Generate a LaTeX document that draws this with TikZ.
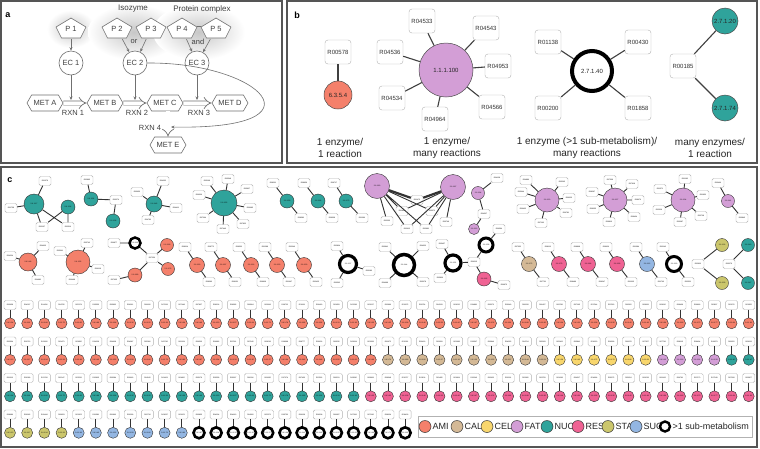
\documentclass[tikz,border=0pt]{standalone}
\usepackage{fontspec}
\setmainfont{Liberation Sans}
\usetikzlibrary{shapes.geometric,shapes.symbols,arrows.meta,calc}
\definecolor{ami}{HTML}{F4806B}
\definecolor{cal}{HTML}{D4B996}
\definecolor{cel}{HTML}{F8D66D}
\definecolor{fat}{HTML}{D39ED6}
\definecolor{nuc}{HTML}{2FA39B}
\definecolor{res}{HTML}{EF6293}
\definecolor{sta}{HTML}{CBC66C}
\definecolor{suc}{HTML}{93B6E2}
\definecolor{frame}{HTML}{555555}
\definecolor{agray}{HTML}{707070}
\definecolor{atext}{HTML}{404040}
\newcount\rcnt \rcnt=1000
\newcommand\rnum{\global\advance\rcnt by 379\relax\ifnum\rcnt>9999 \global\advance\rcnt by -9000\relax\fi R0\the\rcnt}
\newcount\ecnt \ecnt=10
\newcommand\ecnum{\global\advance\ecnt by 7\relax\ifnum\ecnt>97 \global\advance\ecnt by -88\relax\fi 2.6.1.\the\ecnt}
\newcommand\gcell[3]{%
  \node[sbox] (gb#2x#1) at ({10+#1*17.18},{305+#2*36.5}) {\rnum};
  \node[k#3,minimum size=11] (gc#2x#1) at ({10+#1*17.18},{323.3+#2*36.5}) {\ecnum};
  \draw[cedge] (gb#2x#1) -- (gc#2x#1);}
\newcommand\pentshape[2]{%
  \filldraw[draw=agray,line width=0.6pt,fill=white,line join=round] ({#1},{#2-11}) -- ({#1+15},{#2-2}) -- ({#1+9.5},{#2+9}) -- ({#1-9.5},{#2+9}) -- ({#1-15},{#2-2}) -- cycle;}
\begin{document}
\begin{tikzpicture}[x=1pt,y=-1pt,
  panel/.style={draw=frame,line width=1.2pt},
  plabel/.style={font=\bfseries\fontsize{9}{10}\selectfont,inner sep=0pt},
  pent/.style={rectangle,minimum width=30pt,minimum height=20pt,inner sep=0pt,text=atext,font=\fontsize{7.5}{8}\selectfont},
  ecc/.style={circle,minimum size=24pt,inner sep=0pt,draw=agray,line width=0.6pt,fill=white,text=atext,font=\fontsize{7.5}{8}\selectfont},
  met/.style={signal,signal to=east and west,signal pointer angle=120,minimum width=36pt,minimum height=16pt,inner sep=0pt,draw=agray,line width=0.6pt,fill=white,text=atext,font=\fontsize{7.5}{8}\selectfont},
  atxt/.style={text=atext,font=\fontsize{7.5}{8}\selectfont,inner sep=0pt},
  garrow/.style={draw=agray,line width=0.6pt,-{Stealth[length=3.5pt,width=3pt]}},
  hollow/.style={draw=agray,line width=0.7pt,double=white,double distance=3.5pt,-{Implies}},
  bbox/.style={rectangle,rounded corners=3pt,draw=gray!60,fill=white,minimum width=26pt,minimum height=24pt,inner sep=0pt,font=\fontsize{6}{7}\selectfont,text=black!80},
  bcirc/.style={circle,draw=black!70,line width=0.5pt,inner sep=0pt,font=\fontsize{6}{7}\selectfont,text=black!85},
  bedge/.style={draw=black!75,line width=1.1pt},
  btxt/.style={align=center,font=\fontsize{10}{12.5}\selectfont,text=black!85,inner sep=0pt},
  sbox/.style={rectangle,rounded corners=1.5pt,draw=gray!60,fill=white,minimum width=12pt,minimum height=9pt,inner sep=0pt,line width=0.4pt,font=\fontsize{1.8}{2}\selectfont},
  scirc/.style={circle,draw=black!80,line width=0.4pt,inner sep=0pt,font=\fontsize{1.8}{2}\selectfont},
  kAMI/.style={scirc,fill=ami},
  kCAL/.style={scirc,fill=cal},
  kCEL/.style={scirc,fill=cel},
  kFAT/.style={scirc,fill=fat},
  kNUC/.style={scirc,fill=nuc},
  kRES/.style={scirc,fill=res},
  kSTA/.style={scirc,fill=sta},
  kSUC/.style={scirc,fill=suc},
  kRING/.style={circle,draw=black,line width=2.6pt,fill=white,inner sep=0pt,font=\fontsize{1.8}{2}\selectfont},
  cedge/.style={draw=black!80,line width=0.9pt},
  ltxt/.style={anchor=west,inner sep=0pt,font=\fontsize{9}{10}\selectfont,text=black!85}
]
\useasboundingbox (0,0) rectangle (760,448);
\fill[white] (0,0) rectangle (760,448);
% ---------------- panel frames
\draw[panel] (1,1) rectangle (282,163);
\draw[panel] (287,1) rectangle (757,163);
\draw[panel] (1,167) rectangle (757,447);
\node[plabel] (la) at (8,15) {a};
\node[plabel] (lb) at (297,15) {b};
\node[plabel] (lc) at (10,180) {c};
% ---------------- panel a
\shade[inner color=black!22,outer color=white] (71,29) ellipse [x radius=24pt,y radius=19pt];
\shade[inner color=black!22,outer color=white] (134,32) ellipse [x radius=46pt,y radius=28pt];
\shade[inner color=black!22,outer color=white] (199,32) ellipse [x radius=46pt,y radius=28pt];
\node[atxt,font=\fontsize{8}{9}\selectfont] (iso) at (133,9) {Isozyme};
\node[atxt,font=\fontsize{8}{9}\selectfont] (pc) at (202,9) {Protein complex};
\pentshape{71}{29}
\pentshape{117}{29}
\pentshape{151}{29}
\pentshape{182}{29}
\pentshape{216}{29}
\node[pent] (p1) at (71,29) {P 1};
\node[pent] (p2) at (117,29) {P 2};
\node[pent] (p3) at (151,29) {P 3};
\node[pent] (p4) at (182,29) {P 4};
\node[pent] (p5) at (216,29) {P 5};
\node[atxt] (or) at (134,42) {or};
\node[atxt] (and) at (198,42) {and};
\node[ecc] (ec1) at (71,63) {EC 1};
\node[ecc] (ec2) at (135,63) {EC 2};
\node[ecc] (ec3) at (197,63) {EC 3};
\node[met] (ma) at (45,103) {MET A};
\node[met] (mb) at (105,103) {MET B};
\node[met] (mc) at (165,103) {MET C};
\node[met] (md) at (230,103) {MET D};
\node[met] (me) at (168,145) {MET E};
\draw[agray,line width=0.5pt] ([yshift=3pt]p4.east) -- ([yshift=3pt]p5.west);
\draw[garrow] (p1) -- (ec1);
\draw[garrow] (p2) -- (ec2);
\draw[garrow] (p3) -- (ec2);
\draw[garrow] (p4) -- (ec3);
\draw[garrow] (p5) -- (ec3);
\draw[hollow] (ma) -- (mb);
\draw[hollow] (mb) -- (mc);
\draw[hollow] (mc) -- (md);
\draw[hollow] (me.north |- mc.south) -- (me.north);
\coordinate (r1) at (71,100);
\coordinate (r2) at (135,100);
\coordinate (r3) at (197,100);
\coordinate (r4) at (171,127);
\draw[garrow] (ec1) -- (r1);
\draw[garrow] (ec2) -- (r2);
\draw[garrow] (ec3) -- (r3);
\draw[garrow] (ec2.east) .. controls (260,62) and (330,130) .. (r4);
\node[atxt] (x1) at (73,113) {RXN 1};
\node[atxt] (x2) at (137,113) {RXN 2};
\node[atxt] (x3) at (199,113) {RXN 3};
\node[atxt] (x4) at (150,128) {RXN 4};
% ---------------- panel b
\node[bbox] (b1r) at (338,52) {R00578};
\node[bcirc,fill=ami,minimum size=28pt] (b1c) at (338,95) {6.3.5.4};
\draw[bedge] (b1r) -- (b1c);
\node[bcirc,fill=fat,minimum size=54pt] (b2c) at (446,70) {1.1.1.100};
\node[bbox] (b2a) at (422,21) {R04533};
\node[bbox] (b2b) at (486,28) {R04543};
\node[bbox] (b2d) at (390,52) {R04536};
\node[bbox] (b2e) at (498,66) {R04953};
\node[bbox] (b2f) at (392,98) {R04534};
\node[bbox] (b2g) at (492,107) {R04566};
\node[bbox] (b2h) at (435,119) {R04964};
\draw[bedge] (b2c)--(b2a) (b2c)--(b2b) (b2c)--(b2d) (b2c)--(b2e) (b2c)--(b2f) (b2c)--(b2g) (b2c)--(b2h);
\node[bcirc,draw=black,line width=4pt,fill=white,minimum size=40pt] (b3c) at (592,71) {2.7.1.40};
\node[bbox] (b3a) at (548,42) {R01138};
\node[bbox] (b3b) at (638,42) {R00430};
\node[bbox] (b3d) at (548,108) {R00200};
\node[bbox] (b3e) at (638,108) {R01858};
\draw[bedge] (b3c)--(b3a) (b3c)--(b3b) (b3c)--(b3d) (b3c)--(b3e);
\node[bbox] (b4r) at (683,66) {R00185};
\node[bcirc,fill=nuc,minimum size=26pt] (b4a) at (725,21) {2.7.1.20};
\node[bcirc,fill=nuc,minimum size=26pt] (b4b) at (725,108) {2.7.1.74};
\draw[bedge] (b4r)--(b4a) (b4r)--(b4b);
\node[btxt] (bt1) at (340,148) {1 enzyme/\\1 reaction};
\node[btxt] (bt2) at (447,148) {1 enzyme/\\many reactions};
\node[btxt] (bt3) at (587,148) {1 enzyme (>1 sub-metabolism)/\\many reactions};
\node[btxt] (bt4) at (710,148) {many enzymes/\\1 reaction};
% ---------------- panel c, row A
\node[kNUC,minimum size=20pt] (n1) at (34,204) {\ecnum};
\node[kNUC,minimum size=14pt] (n2) at (68,207) {\ecnum};
\node[sbox] (n3) at (45,181) {\rnum};
\node[sbox] (n4) at (11,208) {\rnum};
\node[sbox] (n5) at (42,227) {\rnum};
\node[sbox] (n6) at (68,227) {\rnum};
\draw[cedge] (n1)--(n3) (n1)--(n4) (n1)--(n5) (n1)--(n6) (n2)--(n5) (n2)--(n6);
\node[sbox] (m1) at (87,180) {\rnum};
\node[kNUC,minimum size=14pt] (m2) at (91,199) {\ecnum};
\node[sbox] (m3) at (116,200) {\rnum};
\node[kNUC,minimum size=14pt] (m4) at (113,221) {\ecnum};
\draw[cedge] (m1)--(m2) (m2)--(m3) (m3)--(m4);
\node[kNUC,minimum size=16pt] (q1) at (154,204) {\ecnum};
\node[sbox] (q2) at (137,192) {\rnum};
\node[sbox] (q3) at (163,181) {\rnum};
\node[sbox] (q4) at (176,208) {\rnum};
\node[sbox] (q5) at (148,220) {\rnum};
\draw[cedge] (q1)--(q2) (q1)--(q3) (q1)--(q4) (q1)--(q5);
\node[kNUC,minimum size=26pt] (r0) at (224,203) {\ecnum};
\node[sbox] (rb1) at (207,181) {\rnum};
\node[sbox] (rb2) at (228,179) {\rnum};
\node[sbox] (rb3) at (247,189) {\rnum};
\node[sbox] (rb4) at (199,195) {\rnum};
\node[sbox] (rb5) at (250,208) {\rnum};
\node[sbox] (rb6) at (203,218) {\rnum};
\node[sbox] (rb7) at (223,229) {\rnum};
\node[sbox] (rb8) at (243,224) {\rnum};
\draw[cedge] (r0)--(rb1) (r0)--(rb2) (r0)--(rb3) (r0)--(rb4) (r0)--(rb5) (r0)--(rb6) (r0)--(rb7) (r0)--(rb8);
\node[kNUC,minimum size=14pt] (s1) at (287,201) {\ecnum};
\node[sbox] (s2) at (273,183) {\rnum};
\node[sbox] (s3) at (301,218) {\rnum};
\node[kNUC,minimum size=14pt] (t1) at (318,201) {\ecnum};
\node[sbox] (t2) at (304,183) {\rnum};
\node[sbox] (t3) at (332,218) {\rnum};
\node[kNUC,minimum size=14pt] (u1) at (346,201) {\ecnum};
\node[sbox] (u2) at (334,183) {\rnum};
\node[sbox] (u3) at (362,218) {\rnum};
\draw[cedge] (s1)--(s2) (s1)--(s3) (t1)--(t2) (t1)--(t3) (u1)--(u2) (u1)--(u3);
\node[kFAT,minimum size=25pt] (v1) at (377,186) {\ecnum};
\node[kFAT,minimum size=25pt] (v2) at (453,187) {\ecnum};
\node[sbox] (v3) at (417,200) {\rnum};
\node[sbox] (v4) at (402,211) {\rnum};
\node[sbox] (v5) at (387,221) {\rnum};
\node[sbox] (v6) at (407,229) {\rnum};
\node[sbox] (v7) at (426,229) {\rnum};
\node[sbox] (v8) at (432,211) {\rnum};
\node[sbox] (v9) at (446,222) {\rnum};
\draw[cedge,line width=2.2pt] (v1)--(v3) (v2)--(v3);
\draw[cedge] (v1)--(v4) (v1)--(v5) (v1)--(v6) (v1)--(v7) (v1)--(v8) (v2)--(v4) (v2)--(v6) (v2)--(v7) (v2)--(v8) (v2)--(v9);
\node[kFAT,minimum size=13pt] (w1) at (478,193) {\ecnum};
\node[sbox] (w2) at (497,178) {\rnum};
\node[sbox] (w3) at (484,214) {\rnum};
\node[kFAT,minimum size=11pt] (w4) at (474,229) {\ecnum};
\draw[cedge] (w2)--(w1) (w1)--(w3) (w3)--(w4);
\node[kFAT,minimum size=24pt] (x0) at (547,200) {\ecnum};
\node[sbox] (xb1) at (526,180) {\rnum};
\node[sbox] (xb2) at (562,182) {\rnum};
\node[sbox] (xb3) at (521,192) {\rnum};
\node[sbox] (xb4) at (569,198) {\rnum};
\node[sbox] (xb5) at (523,209) {\rnum};
\node[sbox] (xb6) at (566,213) {\rnum};
\node[sbox] (xb7) at (541,223) {\rnum};
\draw[cedge] (x0)--(xb1) (x0)--(xb2) (x0)--(xb3) (x0)--(xb4) (x0)--(xb5) (x0)--(xb6) (x0)--(xb7);
\node[kFAT,minimum size=24pt] (y0) at (615,200) {\ecnum};
\node[sbox] (yb1) at (610,180) {\rnum};
\node[sbox] (yb2) at (632,184) {\rnum};
\node[sbox] (yb3) at (592,192) {\rnum};
\node[sbox] (yb4) at (638,200) {\rnum};
\node[sbox] (yb5) at (593,209) {\rnum};
\node[sbox] (yb6) at (634,217) {\rnum};
\node[sbox] (yb7) at (609,222) {\rnum};
\draw[cedge] (y0)--(yb1) (y0)--(yb2) (y0)--(yb3) (y0)--(yb4) (y0)--(yb5) (y0)--(yb6) (y0)--(yb7);
\node[kFAT,minimum size=24pt] (z0) at (683,200) {\ecnum};
\node[sbox] (zb1) at (685,179) {\rnum};
\node[sbox] (zb2) at (660,189) {\rnum};
\node[sbox] (zb3) at (703,195) {\rnum};
\node[sbox] (zb4) at (659,210) {\rnum};
\node[sbox] (zb5) at (701,216) {\rnum};
\node[sbox] (zb6) at (680,222) {\rnum};
\draw[cedge] (z0)--(zb1) (z0)--(zb2) (z0)--(zb3) (z0)--(zb4) (z0)--(zb5) (z0)--(zb6);
\node[kFAT,minimum size=13pt] (zz0) at (728,201) {\ecnum};
\node[sbox] (zz1) at (718,183) {\rnum};
\node[sbox] (zz2) at (742,218) {\rnum};
\draw[cedge] (zz0)--(zz1) (zz0)--(zz2);
% ---------------- panel c, row B
\node[kAMI,minimum size=18pt] (h1) at (28,262) {\ecnum};
\node[sbox] (h1a) at (10,256) {\rnum};
\node[sbox] (h1b) at (43,246) {\rnum};
\node[sbox] (h1c) at (38,280) {\rnum};
\draw[cedge] (h1)--(h1a) (h1)--(h1b) (h1)--(h1c);
\node[kAMI,minimum size=24pt] (h2) at (78,262) {\ecnum};
\node[sbox] (h2a) at (60,251) {\rnum};
\node[sbox] (h2b) at (87,243) {\rnum};
\node[sbox] (h2c) at (98,269) {\rnum};
\node[sbox] (h2d) at (72,280) {\rnum};
\draw[cedge] (h2)--(h2a) (h2)--(h2b) (h2)--(h2c) (h2)--(h2d);
\node[kRING,minimum size=11pt,line width=2.5pt] (h3) at (135,243) {\ecnum};
\node[sbox] (h3a) at (114,243) {\rnum};
\node[sbox] (h3b) at (152,258) {\rnum};
\node[kAMI,minimum size=13pt] (h3c) at (167,245) {\ecnum};
\node[kAMI,minimum size=13pt] (h3d) at (168,269) {\ecnum};
\node[kAMI,minimum size=14pt] (h3e) at (135,275) {\ecnum};
\node[sbox] (h3f) at (114,280) {\rnum};
\draw[cedge] (h3)--(h3a) (h3)--(h3b) (h3b)--(h3c) (h3b)--(h3d) (h3b)--(h3e) (h3e)--(h3f);
\foreach \xx [count=\k] in {197,223,251,277,304}{
  \node[kAMI,minimum size=15pt] (hs\k) at (\xx,265) {\ecnum};
  \node[sbox] (hsa\k) at (\xx-12,247) {\rnum};
  \node[sbox] (hsb\k) at (\xx+12,282) {\rnum};
  \draw[cedge] (hs\k)--(hsa\k) (hs\k)--(hsb\k);
}
\node[kRING,minimum size=17pt,line width=3.2pt] (h9) at (348,264) {\ecnum};
\node[sbox] (h9a) at (337,246) {\rnum};
\node[sbox] (h9b) at (369,271) {\rnum};
\node[sbox] (h9c) at (337,283) {\rnum};
\draw[cedge] (h9)--(h9a) (h9)--(h9b) (h9)--(h9c);
\node[kRING,minimum size=21pt,line width=3.5pt] (h10) at (404,265) {\ecnum};
\node[sbox] (h10a) at (385,247) {\rnum};
\node[sbox] (h10b) at (423,246) {\rnum};
\node[sbox] (h10c) at (385,283) {\rnum};
\node[sbox] (h10d) at (423,282) {\rnum};
\draw[cedge] (h10)--(h10a) (h10)--(h10b) (h10)--(h10c) (h10)--(h10d);
\node[kRING,minimum size=16pt,line width=3.2pt] (h11) at (453,263) {\ecnum};
\node[sbox] (h11a) at (442,244) {\rnum};
\node[sbox] (h11b) at (440,278) {\rnum};
\node[sbox] (h11c) at (474,262) {\rnum};
\node[kRING,minimum size=14pt,line width=3pt] (h11d) at (486,245) {\ecnum};
\node[sbox] (h11e) at (499,229) {\rnum};
\node[kRES,minimum size=14pt] (h11f) at (484,279) {\ecnum};
\node[sbox] (h11g) at (504,285) {\rnum};
\draw[cedge] (h11)--(h11a) (h11)--(h11b) (h11)--(h11c) (h11c)--(h11d) (h11d)--(h11e) (h11c)--(h11f) (h11f)--(h11g);
\foreach \xx/\cc [count=\k] in {529/CAL,559/RES,588/RES,617/RES,647/SUC}{
  \node[k\cc,minimum size=15pt] (hu\k) at (\xx,264) {\ecnum};
  \node[sbox] (hua\k) at (\xx-11,247) {\rnum};
  \node[sbox] (hub\k) at (\xx+14,282) {\rnum};
  \draw[cedge] (hu\k)--(hua\k) (hu\k)--(hub\k);
}
\node[kRING,minimum size=15pt,line width=3pt] (h17) at (674,264) {\ecnum};
\node[sbox] (h17a) at (663,247) {\rnum};
\node[sbox] (h17b) at (688,282) {\rnum};
\draw[cedge] (h17)--(h17a) (h17)--(h17b);
\node[sbox] (h18) at (698,264) {\rnum};
\node[kSTA,minimum size=13pt] (h18a) at (722,245) {\ecnum};
\node[kSTA,minimum size=13pt] (h18b) at (722,283) {\ecnum};
\draw[cedge] (h18)--(h18a) (h18)--(h18b);
\node[sbox] (h19) at (729,264) {\rnum};
\node[kNUC,minimum size=13pt] (h19a) at (748,245) {\ecnum};
\node[kNUC,minimum size=13pt] (h19b) at (748,283) {\ecnum};
\draw[cedge] (h19)--(h19a) (h19)--(h19b);
% ---------------- panel c, grid
\foreach \i in {0,...,43}{\gcell{\i}{0}{AMI}}
\foreach \i in {0,...,21}{\gcell{\i}{1}{AMI}}
\foreach \i in {22,...,31}{\gcell{\i}{1}{CAL}}
\foreach \i in {32,...,37}{\gcell{\i}{1}{CEL}}
\foreach \i in {38,...,41}{\gcell{\i}{1}{FAT}}
\foreach \i in {42,43}{\gcell{\i}{1}{NUC}}
\foreach \i in {0,...,20}{\gcell{\i}{2}{NUC}}
\foreach \i in {21,...,43}{\gcell{\i}{2}{RES}}
\foreach \i in {0,...,3}{\gcell{\i}{3}{STA}}
\foreach \i in {4,...,10}{\gcell{\i}{3}{SUC}}
\foreach \i in {11,...,23}{\gcell{\i}{3}{RING}}
% ---------------- legend
\node[draw=gray!60,line width=0.6pt,minimum width=334pt,minimum height=21pt,inner sep=0pt] (leg) at (585,426.5) {};
\foreach \xx/\cc/\lab [count=\k] in {425/AMI/AMI,457/CAL/CAL,487/CEL/CEL,517/FAT/FAT,547/NUC/NUC,578/RES/RES,608/STA/STA,636/SUC/SUC}{
  \node[k\cc,minimum size=12pt,line width=0.5pt] (lg\k) at (\xx,426.5) {};
  \node[ltxt] (lt\k) at (\xx+7.5,426.5) {\lab};
}
\node[kRING,minimum size=10pt,line width=2.4pt] (lg9) at (665,426.5) {};
\node[ltxt] (lt9) at (672.5,426.5) {>1 sub-metabolism};
\end{tikzpicture}
\end{document}
